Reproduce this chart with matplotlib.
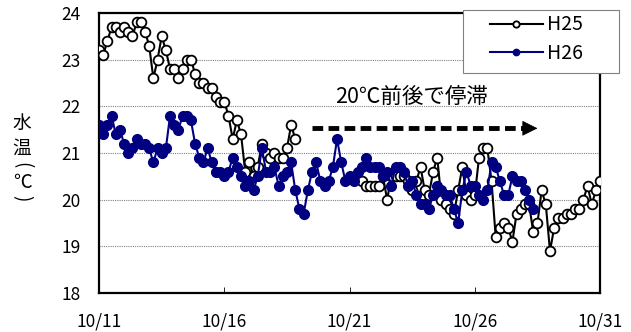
import numpy as np
import pandas as pd
import matplotlib
matplotlib.use('Agg')
import matplotlib.pyplot as plt
import matplotlib.dates as mdates
from matplotlib.patches import Rectangle

plt.rcParams['font.family'] = ['Noto Sans CJK JP', 'DejaVu Sans']

nan = np.nan
# water temperature every 4 hours from 10/11 00:00
h25 = [23.2, 23.1, 23.4, 23.7, 23.7, 23.6, 23.7, 23.6, 23.5, 23.8,
       23.8, 23.6, 23.3, 22.6, 23.0, 23.5, 23.2, 22.8, 22.8, 22.6,
       22.8, 23.0, 23.0, 22.7, 22.5, 22.5, 22.4, 22.4, 22.2, 22.1,
       22.1, 21.8, 21.3, 21.7, 21.4, 20.6, 20.8, 20.5, 20.7, 21.2,
       21.0, 20.9, 21.0, 20.9, 20.9, 21.1, 21.6, 21.3,
       nan, nan, nan, nan, nan, nan, nan, nan, nan, nan,
       nan, nan, nan, nan, nan,
       20.4, 20.3, 20.3, 20.3, 20.3, 20.5, 20.0, 20.5, 20.5, 20.5,
       20.5, 20.4, 20.2, 20.4, 20.7, 20.2, 20.1, 20.6, 20.9, 20.0,
       19.9, 19.8, 19.7, 20.2, 20.7, 20.1, 20.0, 20.1, 20.9, 21.1,
       21.1, 20.4, 19.2, 19.4, 19.5, 19.4, 19.1, 19.7, 19.8, 19.9,
       19.9, 19.3, 19.5, 20.2, 19.9, 18.9, 19.4, 19.6, 19.6, 19.7,
       19.7, 19.8, 19.8, 20.0, 20.3, 19.9, 20.2, 20.4]
h26 = [21.6, 21.4, 21.6, 21.8, 21.4, 21.5, 21.2, 21.0, 21.1, 21.3,
       21.2, 21.2, 21.1, 20.8, 21.1, 21.0, 21.1, 21.8, 21.6, 21.5,
       21.8, 21.8, 21.7, 21.2, 20.9, 20.8, 21.1, 20.8, 20.6, 20.6,
       20.5, 20.6, 20.9, 20.7, 20.5, 20.3, 20.4, 20.2, 20.5, 21.1,
       20.6, 20.6, 20.7, 20.3, 20.5, 20.6, 20.8, 20.2, 19.8, 19.7,
       20.2, 20.6, 20.8, 20.4, 20.3, 20.4, 20.7, 21.3, 20.8, 20.4,
       20.5, 20.4, 20.6, 20.7, 20.9, 20.7, 20.7, 20.7, 20.5, 20.6,
       20.3, 20.7, 20.7, 20.6, 20.3, 20.4, 20.1, 19.9, 19.9, 19.8,
       20.1, 20.3, 20.2, 20.1, 20.1, 19.8, 19.5, 20.2, 20.6, 20.3,
       20.3, 20.1, 20.0, 20.2, 20.8, 20.7, 20.4, 20.1, 20.1, 20.5,
       20.4, 20.4, 20.2, 20.0, 19.8]
labels = ['H25', 'H26']
note = '20℃前後で停滞'

t25 = pd.date_range('2014-10-11', periods=len(h25), freq='4h')
t26 = pd.date_range('2014-10-11', periods=len(h26), freq='4h')

fig = plt.figure(figsize=(6.31, 3.32), dpi=100)
ax = fig.add_axes([0.157, 0.117, 0.794, 0.844])

ax.plot(t25, h25, '-o', color='black', lw=1.5, ms=7, mfc='white',
        mec='black', mew=1.3, label=labels[0], zorder=3)
ax.plot(t26, h26, '-o', color='#000080', lw=1.5, ms=7, mfc='#000080',
        mec='#000080', label=labels[1], zorder=4)

ax.set_ylim(18, 24)
ax.set_yticks(range(18, 25))
ax.set_xlim(pd.Timestamp('2014-10-11'), pd.Timestamp('2014-10-31'))
ax.xaxis.set_major_locator(mdates.DayLocator(bymonthday=[11, 16, 21, 26, 31]))
ax.xaxis.set_major_formatter(mdates.DateFormatter('%m/%d'))
ax.tick_params(axis='both', labelsize=12.5, direction='in', length=4, width=0.6)
ax.tick_params(axis='y', pad=13, length=0)
ax.tick_params(axis='x', pad=14)
ax.yaxis.grid(True, color='#808080', linestyle=(0, (1, 1)), linewidth=0.8)
for s in ax.spines.values():
    s.set_linewidth(1.6)

# annotation: dashed arrow
y_arr = 21.53
x0 = pd.Timestamp('2014-10-19 12:00')
x1 = pd.Timestamp('2014-10-28 00:00')
tip = pd.Timestamp('2014-10-28 12:00')
ax.plot([x0, x1], [y_arr, y_arr], color='black', lw=3.5,
        linestyle=(0, (2.2, 1.1)), solid_capstyle='butt', zorder=5)
ax.annotate('', xy=(tip, y_arr), xytext=(x1, y_arr),
            arrowprops=dict(arrowstyle='-|>', mutation_scale=25, color='black',
                            lw=0.5, shrinkA=0, shrinkB=0), zorder=5)
fig.text(412 / 631, 1 - 97 / 332, note, ha='center', va='center', fontsize=15.5)

# y label stacked vertically, parentheses turned
for ch, yp, rot in zip(['水', '温', '(', '℃', ')'],
                       [123, 148, 165, 182, 198], [0, 0, -90, 0, -90]):
    fig.text(22 / 631, 1 - yp / 332, ch, ha='center', va='center',
             fontsize=13.5, rotation=rot)

# legend with a wide box like the original
ax.add_patch(Rectangle((463 / 631, 1 - 73 / 332), 156 / 631, 63 / 332,
                       transform=fig.transFigure, facecolor='white',
                       edgecolor='#808080', linewidth=0.8, zorder=9,
                       clip_on=False))
leg = ax.legend(loc='upper left', bbox_to_anchor=(490 / 631, 1 - 14.5 / 332),
                bbox_transform=fig.transFigure, fontsize=14, frameon=False,
                handlelength=2.7, markerscale=0.65, borderpad=0,
                labelspacing=0.4, handletextpad=0.25, borderaxespad=0)
leg.set_zorder(10)

fig.savefig('out.png', dpi=100)
